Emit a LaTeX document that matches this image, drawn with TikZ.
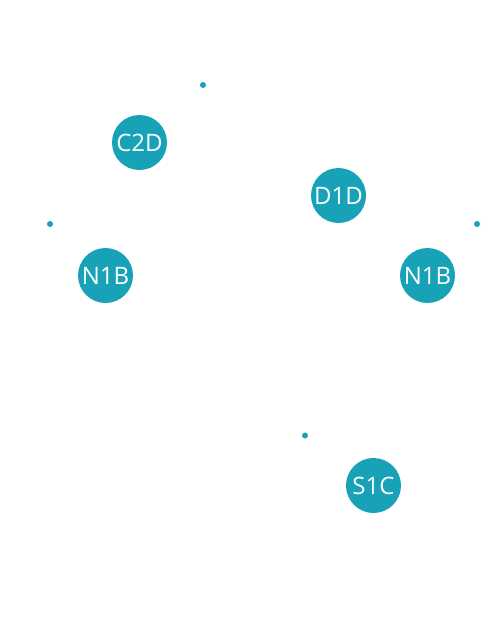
\documentclass[tikz,border=0pt]{standalone}
\usepackage{fontspec}
\setmainfont{Open Sans}
\definecolor{teal1}{RGB}{23,162,184}
\begin{document}
\begin{tikzpicture}[x=1pt,y=-1pt,
  bubble/.style={circle,fill=teal1,draw=none,minimum size=55pt,inner sep=0pt,text=white,font=\fontsize{24}{24}\selectfont},
  dot/.style={circle,fill=teal1,draw=none,minimum size=6pt,inner sep=0pt}]
\useasboundingbox (0,0) rectangle (500,643);
\node[dot] (p1) at (203,85) {};
\node[dot] (p2) at (50,224) {};
\node[dot] (p3) at (477,224) {};
\node[dot] (p4) at (305,435.5) {};
\node[bubble] (c2d) at (139.5,142.5) {C2D};
\node[bubble] (d1d) at (338.5,195.5) {D1D};
\node[bubble] (n1a) at (105.5,275.5) {N1B};
\node[bubble] (n1b) at (427.5,275.5) {N1B};
\node[bubble] (s1c) at (373.5,485.5) {S1C};
\end{tikzpicture}
\end{document}
